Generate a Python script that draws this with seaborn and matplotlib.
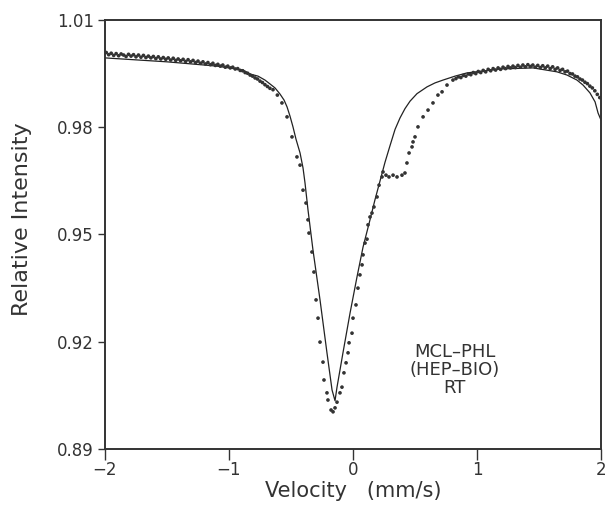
import matplotlib
matplotlib.use('Agg')
import matplotlib.pyplot as plt
import seaborn as sns
import pandas as pd

# ------------------------------------------------------------
# Data (velocity in mm/s, relative intensity)
# ------------------------------------------------------------
# measured points, left baseline
left_velocity = [
    -1.99, -1.97, -1.95, -1.93, -1.91, -1.89, -1.87, -1.85, -1.83, -1.81,
    -1.79, -1.77, -1.75, -1.73, -1.71, -1.69, -1.67, -1.65, -1.63, -1.61,
    -1.59, -1.57, -1.55, -1.53, -1.51, -1.49, -1.47, -1.45, -1.43, -1.41,
    -1.39, -1.37, -1.35, -1.33, -1.31, -1.29, -1.27, -1.25, -1.23, -1.21,
    -1.19, -1.17, -1.15, -1.13, -1.11, -1.09, -1.07, -1.05, -1.03, -1.01,
    -0.99, -0.97, -0.95, -0.93, -0.91, -0.89, -0.87, -0.85, -0.83, -0.81,
    -0.79, -0.77, -0.75, -0.73, -0.71, -0.69, -0.67,
]
left_intensity = [
    1.0009, 1.0003, 1.0007, 1.0001, 1.0006, 1.0000, 1.0005, 1.0002, 0.9998, 1.0004,
    0.9999, 1.0003, 0.9997, 1.0002, 0.9996, 1.0001, 0.9995, 0.9999, 0.9994, 0.9998,
    0.9992, 0.9997, 0.9991, 0.9995, 0.9990, 0.9994, 0.9988, 0.9993, 0.9987, 0.9991,
    0.9986, 0.9990, 0.9984, 0.9989, 0.9983, 0.9987, 0.9981, 0.9985, 0.9979, 0.9983,
    0.9977, 0.9981, 0.9975, 0.9979, 0.9973, 0.9976, 0.9971, 0.9974, 0.9968, 0.9971,
    0.9966, 0.9968, 0.9963, 0.9964, 0.9959, 0.9958, 0.9953, 0.9951, 0.9946, 0.9943,
    0.9938, 0.9935, 0.9929, 0.9925, 0.9919, 0.9914, 0.9909,
]

# measured points, absorption dip and shoulder
dip_velocity = [
    -0.645, -0.61, -0.573, -0.532, -0.492, -0.452, -0.427, -0.403, -0.379, -0.363,
    -0.355, -0.331, -0.315, -0.298, -0.282, -0.266, -0.242, -0.234, -0.210, -0.202,
    -0.177, -0.161, -0.145, -0.129, -0.105, -0.089, -0.073, -0.056, -0.040, -0.032,
    -0.008, 0.000, 0.024, 0.040, 0.056, 0.073, 0.081, 0.097, 0.113, 0.121,
    0.137, 0.153, 0.169, 0.194, 0.210, 0.234, 0.242, 0.266, 0.290, 0.323,
    0.355, 0.395, 0.419, 0.435, 0.452, 0.476, 0.484, 0.500, 0.524, 0.565,
    0.605, 0.645, 0.685, 0.718, 0.758, 0.806,
]
dip_intensity = [
    0.9905, 0.9890, 0.9868, 0.9829, 0.9773, 0.9717, 0.9694, 0.9624, 0.9588, 0.9541,
    0.9504, 0.9451, 0.9395, 0.9317, 0.9266, 0.9199, 0.9143, 0.9093, 0.9057, 0.9037,
    0.9009, 0.9004, 0.9015, 0.9031, 0.9057, 0.9073, 0.9113, 0.9141, 0.9169, 0.9197,
    0.9224, 0.9266, 0.9303, 0.9350, 0.9387, 0.9415, 0.9443, 0.9476, 0.9487, 0.9527,
    0.9549, 0.9560, 0.9577, 0.9605, 0.9638, 0.9661, 0.9675, 0.9666, 0.9661, 0.9666,
    0.9661, 0.9666, 0.9672, 0.9700, 0.9728, 0.9745, 0.9759, 0.9773, 0.9801, 0.9829,
    0.9848, 0.9868, 0.9890, 0.9899, 0.9918, 0.9932,
]

# measured points, right baseline
right_velocity = [
    0.83, 0.85, 0.87, 0.89, 0.91, 0.93, 0.95, 0.97, 0.99, 1.01,
    1.03, 1.05, 1.07, 1.09, 1.11, 1.13, 1.15, 1.17, 1.19, 1.21,
    1.23, 1.25, 1.27, 1.29, 1.31, 1.33, 1.35, 1.37, 1.39, 1.41,
    1.43, 1.45, 1.47, 1.49, 1.51, 1.53, 1.55, 1.57, 1.59, 1.61,
    1.63, 1.65, 1.67, 1.69, 1.71, 1.73, 1.75, 1.77, 1.79, 1.81,
    1.83, 1.85, 1.87, 1.89, 1.91, 1.93, 1.95, 1.97, 1.99,
]
right_intensity = [
    0.9936, 0.9941, 0.9939, 0.9945, 0.9943, 0.9949, 0.9947, 0.9953, 0.9950, 0.9956,
    0.9953, 0.9959, 0.9955, 0.9962, 0.9958, 0.9964, 0.9960, 0.9966, 0.9962, 0.9968,
    0.9964, 0.9970, 0.9966, 0.9971, 0.9967, 0.9973, 0.9968, 0.9974, 0.9969, 0.9975,
    0.9970, 0.9974, 0.9968, 0.9973, 0.9967, 0.9972, 0.9966, 0.9971, 0.9964, 0.9969,
    0.9962, 0.9966, 0.9959, 0.9962, 0.9955, 0.9957, 0.9950, 0.9949, 0.9943, 0.9941,
    0.9935, 0.9932, 0.9926, 0.9922, 0.9915, 0.9910, 0.9902, 0.9892, 0.9883,
]

# fitted curve
fit_velocity = [
    -2.0, -1.5, -1.097, -0.887, -0.831, -0.766, -0.710, -0.669, -0.629, -0.589,
    -0.556, -0.532, -0.508, -0.484, -0.460, -0.427, -0.403, -0.387, -0.363, -0.323,
    -0.266, -0.210, -0.169, -0.145, -0.129, -0.081, -0.024, 0.032, 0.081, 0.137,
    0.177, 0.218, 0.258, 0.298, 0.339, 0.379, 0.419, 0.460, 0.516, 0.597,
    0.661, 0.726, 0.823, 0.919, 1.185, 1.452, 1.645, 1.726, 1.806, 1.855,
    1.911, 1.952, 1.976, 2.0,
]
fit_intensity = [
    0.9994, 0.9983, 0.9971, 0.9960, 0.9949, 0.9943, 0.9932, 0.9921, 0.9910, 0.9893,
    0.9876, 0.9857, 0.9831, 0.9801, 0.9767, 0.9728, 0.9686, 0.9644, 0.9569, 0.9457,
    0.9317, 0.9169, 0.9065, 0.9035, 0.9073, 0.9169, 0.9280, 0.9381, 0.9465, 0.9541,
    0.9597, 0.9650, 0.9702, 0.9748, 0.9794, 0.9826, 0.9852, 0.9873, 0.9894, 0.9913,
    0.9924, 0.9932, 0.9943, 0.9952, 0.9963, 0.9966, 0.9955, 0.9946, 0.9932, 0.9918,
    0.9896, 0.9871, 0.9840, 0.9820,
]

x_ticks = [-2, -1, 0, 1, 2]
y_ticks = [0.89, 0.92, 0.95, 0.98, 1.01]
sample_label = "MCL–PHL\n(HEP–BIO)\nRT"

dots = pd.DataFrame({
    "velocity": left_velocity + dip_velocity + right_velocity,
    "intensity": left_intensity + dip_intensity + right_intensity,
})
fit = pd.DataFrame({"velocity": fit_velocity, "intensity": fit_intensity})

# ------------------------------------------------------------
# Plot
# ------------------------------------------------------------
sns.set_style("ticks")
plt.rcParams['font.family'] = ['DejaVu Sans']
ink = "#333333"

fig, ax = plt.subplots(figsize=(6.09, 5.09), dpi=100)
fig.subplots_adjust(left=0.1724, right=0.9869, bottom=0.1179, top=0.9607)

sns.scatterplot(data=dots, x="velocity", y="intensity", ax=ax,
                s=7, color=ink, edgecolor="none", zorder=3)
sns.lineplot(data=fit, x="velocity", y="intensity", ax=ax,
             color="#222222", linewidth=0.9, sort=False, zorder=2)

ax.set_xlim(-2, 2)
ax.set_ylim(0.89, 1.01)
ax.set_xticks(x_ticks)
ax.set_yticks(y_ticks)
ax.set_yticklabels([f"{t:.2f}" for t in y_ticks])

ax.set_xlabel("Velocity   (mm/s)", fontsize=15, color=ink, labelpad=1)
ax.set_ylabel("Relative Intensity", fontsize=16, color=ink)
ax.yaxis.set_label_coords(-0.148, 0.536)

ax.tick_params(axis="x", direction="out", length=8, width=1.0, labelsize=12,
               colors=ink, pad=1)
ax.tick_params(axis="y", direction="out", length=5, width=1.0, labelsize=12,
               colors=ink, pad=3)

for side in ["top", "right", "bottom", "left"]:
    ax.spines[side].set_visible(True)
    ax.spines[side].set_linewidth(1.4)
    ax.spines[side].set_color(ink)

ax.text(0.82, 0.9121, sample_label, ha="center", va="center",
        fontsize=13, color=ink, linespacing=1.0)

fig.savefig("out.png", dpi=100)
